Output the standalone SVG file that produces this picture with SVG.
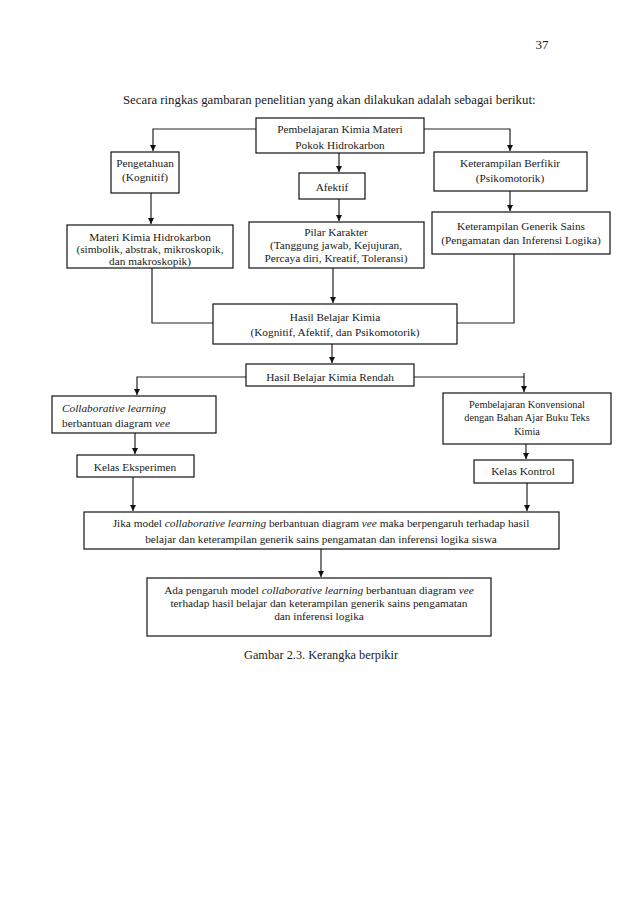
<svg xmlns="http://www.w3.org/2000/svg" width="638" height="903" viewBox="0 0 638 903">
<style>
text{font-family:"Liberation Serif","Times New Roman",serif;fill:#1a1a1a;font-size:11.3px}
.c{text-anchor:middle}
.s{font-size:10.3px}
.i{font-style:italic}
.box{fill:#fff;stroke:#111;stroke-width:1.2}
.ln{fill:none;stroke:#222;stroke-width:1.2}
.ar{marker-end:url(#ah)}
</style>
<defs>
<marker id="ah" markerUnits="userSpaceOnUse" markerWidth="8" markerHeight="8" refX="6" refY="3" orient="auto">
<path d="M0,0 L6,3 L0,6 Z" fill="#111"/>
</marker>
</defs>
<rect width="638" height="903" fill="#fff"/>
<text x="542" y="49" class="c" style="font-size:13px">37</text>
<text x="123" y="104" style="font-size:12.8px">Secara ringkas gambaran penelitian yang akan dilakukan adalah sebagai berikut:</text>

<g id="connectors">
<path class="ln ar" d="M256,129 H153 V151"/>
<path class="ln ar" d="M424,129 H510 V151"/>
<path class="ln ar" d="M339,153 V172"/>
<path class="ln ar" d="M151,193 V224"/>
<path class="ln ar" d="M339,199 V221"/>
<path class="ln ar" d="M510,191 V211"/>
<path class="ln" d="M152,268 V323 H213"/>
<path class="ln" d="M514,254 V323 H457"/>
<path class="ln ar" d="M333,268 V303"/>
<path class="ln ar" d="M332,344 V363"/>
<path class="ln ar" d="M246,377 H137 V395"/>
<path class="ln ar" d="M414,377 H524 V392"/>
<path class="ln" d="M524,373 V377"/>
<path class="ln ar" d="M135,433 V454"/>
<path class="ln ar" d="M526,444 V459"/>
<path class="ln ar" d="M133,477 V511"/>
<path class="ln ar" d="M527,483 V511"/>
<path class="ln ar" d="M321,549 V577"/>
</g>

<g id="n1"><rect class="box" x="256" y="118" width="168" height="35"/>
<text x="340" y="133" class="c">Pembelajaran Kimia Materi</text>
<text x="340" y="149" class="c">Pokok Hidrokarbon</text></g>

<g id="n2"><rect class="box" x="111" y="152" width="68" height="41"/>
<text x="145" y="167" class="c">Pengetahuan</text>
<text x="145" y="181" class="c">(Kognitif)</text></g>

<g id="n3"><rect class="box" x="299" y="173" width="66" height="26"/>
<text x="332" y="191" class="c">Afektif</text></g>

<g id="n4"><rect class="box" x="434" y="152" width="153" height="39"/>
<text x="510" y="167" class="c">Keterampilan Berfikir</text>
<text x="510" y="182" class="c">(Psikomotorik)</text></g>

<g id="n5"><rect class="box" x="67" y="225" width="166" height="43"/>
<text x="150" y="241" class="c">Materi Kimia Hidrokarbon</text>
<text x="150" y="253" class="c">(simbolik, abstrak, mikroskopik,</text>
<text x="150" y="265" class="c">dan makroskopik)</text></g>

<g id="n6"><rect class="box" x="249" y="222" width="175" height="46"/>
<text x="336" y="236" class="c">Pilar Karakter</text>
<text x="336" y="249" class="c">(Tanggung jawab, Kejujuran,</text>
<text x="336" y="262" class="c">Percaya diri, Kreatif, Toleransi)</text></g>

<g id="n7"><rect class="box" x="432" y="212" width="178" height="42"/>
<text x="521" y="230" class="c">Keterampilan Generik Sains</text>
<text x="521" y="244" class="c">(Pengamatan dan Inferensi Logika)</text></g>

<g id="n8"><rect class="box" x="213" y="304" width="244" height="40"/>
<text x="335" y="321" class="c">Hasil Belajar Kimia</text>
<text x="335" y="336" class="c">(Kognitif, Afektif, dan Psikomotorik)</text></g>

<g id="n9"><rect class="box" x="246" y="364" width="168" height="22"/>
<text x="330" y="381" class="c">Hasil Belajar Kimia Rendah</text></g>

<g id="n10"><rect class="box" x="52" y="396" width="164" height="37"/>
<text x="62" y="412" class="i">Collaborative learning</text>
<text x="62" y="427">berbantuan diagram <tspan class="i">vee</tspan></text></g>

<g id="n11"><rect class="box" x="443" y="393" width="168" height="51"/>
<text x="527" y="408" class="c s">Pembelajaran Konvensional</text>
<text x="527" y="421" class="c s">dengan Bahan Ajar Buku Teks</text>
<text x="527" y="435" class="c s">Kimia</text></g>

<g id="n12"><rect class="box" x="77" y="455" width="117" height="22"/>
<text x="135" y="471" class="c">Kelas Eksperimen</text></g>

<g id="n13"><rect class="box" x="474" y="460" width="99" height="23"/>
<text x="523" y="475" class="c">Kelas Kontrol</text></g>

<g id="n14"><rect class="box" x="84" y="512" width="475" height="37"/>
<text x="321" y="527" class="c">Jika model <tspan class="i">collaborative learning</tspan> berbantuan diagram <tspan class="i">vee</tspan> maka berpengaruh terhadap hasil</text>
<text x="321" y="543" class="c">belajar dan keterampilan generik sains pengamatan dan inferensi logika siswa</text></g>

<g id="n15"><rect class="box" x="147" y="578" width="344" height="58"/>
<text x="319" y="594" class="c">Ada pengaruh model <tspan class="i">collaborative learning</tspan> berbantuan diagram <tspan class="i">vee</tspan></text>
<text x="319" y="607" class="c">terhadap hasil belajar dan keterampilan generik sains pengamatan</text>
<text x="319" y="620" class="c">dan inferensi logika</text></g>

<text x="321" y="659" class="c" style="font-size:12.3px">Gambar 2.3. Kerangka berpikir</text>
</svg>
